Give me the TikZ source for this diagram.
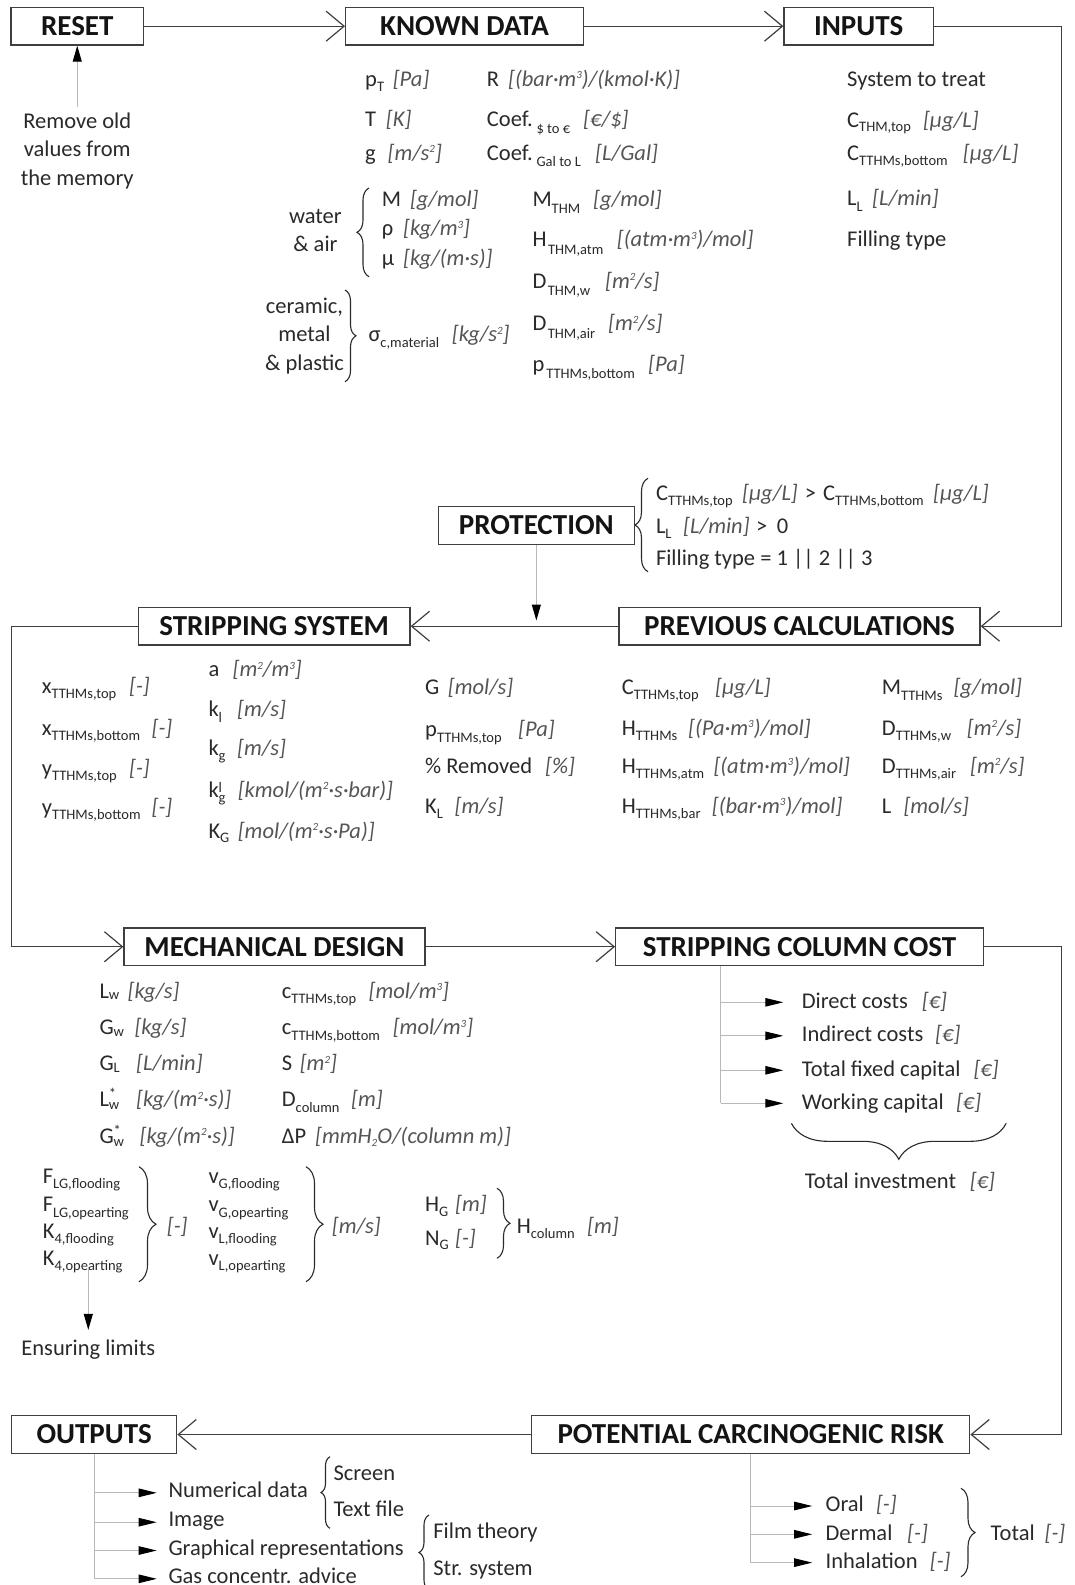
\documentclass[tikz,border=0pt]{standalone}
\usepackage{fontspec}
\setmainfont{Carlito}
\usetikzlibrary{arrows.meta,decorations.pathreplacing}

\definecolor{linec}{HTML}{3F3F3F}
\definecolor{titlec}{HTML}{141414}
\definecolor{labc}{HTML}{2A2A2A}
\definecolor{unitc}{HTML}{555555}
\definecolor{grayc}{HTML}{B8B8B8}

% font sizes
\newcommand\bodyfont{\fontsize{22.5}{27}\selectfont}
\newcommand\titlefont{\fontsize{29}{34}\selectfont\bfseries}
\newcommand\subf{\fontsize{14.5}{15}\selectfont}
\newcommand\supf{\fontsize{11}{11}\selectfont}
% lowered subscript, raised superscript, unit in grey italics
\newcommand\sbs[2][5.5pt]{\raisebox{-#1}{\subf #2}}
\newcommand\sps[1]{\raisebox{7.5pt}{\supf #1}}
\newcommand\unt[1]{{\itshape\color{unitc}#1}}
% label padded to a fixed width, followed by its unit
\newcommand\lu[3]{\makebox[#1][l]{#2}\unt{#3}}
% stacked subscript / superscript
\newcommand\sbsp[4]{\makebox[0pt][l]{\raisebox{#3}{\subf #4}}\raisebox{-#1}{\subf #2}}

\begin{document}
\begin{tikzpicture}[x=1pt,y=-1pt,
  stage/.style={draw=linec, line width=1.3pt, minimum height=37.7pt, inner sep=0pt,
                font=\titlefont, text=titlec},
  lab/.style={anchor=base west, inner sep=0pt, font=\bodyfont, text=labc},
  flow/.style={draw=linec, line width=1.2pt, -{Straight Barb[length=18pt,width=30pt]}},
  grayline/.style={draw=grayc, line width=1pt},
  feed/.style={grayline, -{Triangle[length=16pt,width=9pt,color=black]}},
  branch/.style={grayline, -{Triangle[length=18pt,width=8.5pt,color=black]}},
  brc/.style={decorate, decoration={brace, amplitude=#1}, draw=labc, line width=1.1pt},
]
\useasboundingbox (0,0) rectangle (1075,1585);
\fill[white] (0,0) rectangle (1075,1585);
\clip (0,0) rectangle (1075,1585);

% ---------- stages ----------
\node[stage, minimum width=132.5pt] (reset)   at (77.25,26.2)  {RESET};
\node[stage, minimum width=237.6pt] (known)   at (464.5,26.2)  {KNOWN DATA};
\node[stage, minimum width=149.2pt] (inputs)  at (858.6,26.2)  {INPUTS};
\node[stage, minimum width=196pt]   (prot)    at (536.35,525.3) {PROTECTION};
\node[stage, minimum width=271.7pt] (strip)   at (274.15,626.2) {STRIPPING SYSTEM};
\node[stage, minimum width=361pt]   (prev)    at (799.5,626.2) {PREVIOUS CALCULATIONS};
\node[stage, minimum width=301pt]   (mech)    at (274.5,946.7) {MECHANICAL DESIGN};
\node[stage, minimum width=367.6pt] (cost)    at (799.5,946.7) {STRIPPING COLUMN COST};
\node[stage, minimum width=165pt]   (outputs) at (94.2,1434.5) {OUTPUTS};
\node[stage, minimum width=438pt]   (risk)    at (750.7,1434.5) {POTENTIAL CARCINOGENIC RISK};

% ---------- main flow ----------
\coordinate (c1) at (1061.8,26.2);
\coordinate (c2) at (11.7,626.2);
\coordinate (c3) at (1061.8,946.7);
\draw[flow] (reset.east) -- (known.west);
\draw[flow] (known.east) -- (inputs.west);
\draw[flow] (inputs.east) -- (c1) |- (prev.east);
\draw[flow] (prev.west) -- (strip.east);
\draw[flow] (strip.west) -- (c2) |- (mech.west);
\draw[flow] (mech.east) -- (cost.west);
\draw[flow] (cost.east) -- (c3) |- (risk.east);
\draw[flow] (risk.west) -- (outputs.east);

% ---------- reset ----------
\node[lab, anchor=base] (rm1) at (77.25,128.3) {Remove old};
\node[lab, anchor=base] (rm2) at (77.25,156.7) {values from};
\node[lab, anchor=base] (rm3) at (77.25,185) {the memory};
\draw[feed] ([yshift=5.7pt]rm1.north) -- (reset.south);

% ---------- known data ----------
\node[lab] (pt)  at (365,86)    {\lu{27.6pt}{p\sbs{T}}{[Pa]}};
\node[lab] (tk)  at (365,126.7) {\lu{20.7pt}{T}{[K]}};
\node[lab] (gg)  at (365,160)   {\lu{22.4pt}{g}{[m/s\sps{2}]}};
\node[lab] (rr)  at (486.7,86)    {\lu{21.3pt}{R}{[(bar·m\sps{3})/(kmol·K)]}};
\node[lab] (cf1) at (486.7,126.7) {\lu{96.3pt}{Coef.\,\sbs[6.5pt]{\$ to €}}{[€/\$]}};
\node[lab] (cf2) at (486.7,160)   {\lu{108.3pt}{Coef.\,\sbs[6.5pt]{Gal to L}}{[L/Gal]}};

\node[lab] (mw)  at (381.7,206)   {\lu{28.1pt}{M}{[g/mol]}};
\node[lab] (rho) at (381.7,235.5) {\lu{21.2pt}{ρ}{[kg/m\sps{3}]}};
\node[lab] (mu)  at (381.7,265)   {\lu{21.2pt}{μ}{[kg/(m·s)]}};
\node[lab, anchor=base] (wa1) at (315.4,223.3) {water};
\node[lab, anchor=base] (wa2) at (315.4,251.7) {\& air};
\draw[brc=12pt] (369,276.7) -- (369,188);

\node[lab, anchor=base] (cm1) at (304.5,313.5) {ceramic,};
\node[lab, anchor=base] (cm2) at (304.5,341.7) {metal};
\node[lab, anchor=base] (cm3) at (304.5,370)   {\& plastic};
\draw[brc=11pt] (345,290) -- (345,381.7);
\node[lab] (sig) at (368.3,341.7) {\lu{83.4pt}{σ\sbs[6pt]{c,material}}{[kg/s\sps{2}]}};

\node[lab] (mthm)  at (532.3,206)   {\lu{60.7pt}{M\sbs[7pt]{THM}}{[g/mol]}};
\node[lab] (hthm)  at (532.3,246.7) {\lu{84.4pt}{H\kern1.5pt\sbs[7.5pt]{THM,atm}}{[(atm·m\sps{3})/mol]}};
\node[lab] (dthmw) at (532.3,288.3) {\lu{72.7pt}{D\kern1.5pt\sbs[7.5pt]{THM,w}}{[m\sps{2}/s]}};
\node[lab] (dthma) at (532.3,330.7) {\lu{75.7pt}{D\kern1.5pt\sbs[7.5pt]{THM,air}}{[m\sps{2}/s]}};
\node[lab] (pbot)  at (532.3,371)   {\lu{115.7pt}{p\kern2pt\sbs[7pt]{TTHMs,bottom}}{[Pa]}};

% ---------- inputs ----------
\node[lab] (sys)  at (847,86)    {System to treat};
\node[lab] (cthm) at (847,127)   {\lu{75.8pt}{C\sbs[4.5pt]{THM,top}}{[μg/L]}};
\node[lab] (cbot) at (847,160)   {\lu{115.7pt}{C\sbs{TTHMs,bottom}}{[μg/L]}};
\node[lab] (ll)   at (847,205.5) {\lu{25pt}{L\sbs{L}}{[L/min]}};
\node[lab] (fill) at (847,246)   {Filling type};

% ---------- protection ----------
\node[lab] (pc1) at (655.8,500)
  {\lu{86.2pt}{C\sbs{TTHMs,top}}{\makebox[62.6pt][l]{[μg/L]}}\makebox[18.4pt][l]{>}\lu{110pt}{C\sbs{TTHMs,bottom}}{[μg/L]}};
\node[lab] (pc2) at (655.8,533.3)
  {\lu{27.2pt}{L\sbs{L}}{\makebox[73pt][l]{[L/min]}}\makebox[20.8pt][l]{>}0};
\node[lab] (pc3) at (655.8,565) {Filling type = 1 || 2 || 3};
\draw[brc=13pt] (648,571.7) -- (648,478.3);
\coordinate (protend) at (536.35,620.5);
\draw[feed] (prot.south) -- (protend);

% ---------- stripping system ----------
\node[lab] (xt) at (41.7,693.3) {\lu{87.3pt}{x\sbs{TTHMs,top}}{[-]}};
\node[lab] (xb) at (41.7,735)   {\lu{109.8pt}{x\sbs{TTHMs,bottom}}{[-]}};
\node[lab] (yt) at (41.7,775)   {\lu{87.3pt}{y\sbs{TTHMs,top}}{[-]}};
\node[lab] (yb) at (41.7,814)   {\lu{109.8pt}{y\sbs{TTHMs,bottom}}{[-]}};

\node[lab] (aa)  at (208.3,676.7) {\lu{24.1pt}{a}{[m\sps{2}/m\sps{3}]}};
\node[lab] (kl)  at (208.3,716.7) {\lu{28.7pt}{k\sbs{l}}{[m/s]}};
\node[lab] (kg)  at (208.3,755)   {\lu{28.7pt}{k\sbs{g}}{[m/s]}};
\node[lab] (kgl) at (208.3,797)   {\lu{29.3pt}{k\sbsp{5.5pt}{g}{4.5pt}{l}}{[kmol/(m\sps{2}·s·bar)]}};
\node[lab] (kgg) at (208.3,838)   {\lu{29.3pt}{K\sbs[4pt]{G}}{[mol/(m\sps{2}·s·Pa)]}};

\node[lab] (gm)   at (425,694)   {\lu{22.7pt}{G}{[mol/s]}};
\node[lab] (ptop) at (425,736.7) {\lu{93pt}{p\sbs{TTHMs,top}}{[Pa]}};
\node[lab] (rem)  at (425,773.3) {\lu{120pt}{\% Removed}{[\%]}};
\node[lab] (kll)  at (425,813.3) {\lu{29.5pt}{K\sbs{L}}{[m/s]}};

% ---------- previous calculations ----------
\node[lab] (ctop) at (621.7,694)   {\lu{93.3pt}{C\sbs{TTHMs,top}}{[μg/L]}};
\node[lab] (htt)  at (621.7,735)   {\lu{66.3pt}{H\sbs{TTHMs}}{[(Pa·m\sps{3})/mol]}};
\node[lab] (hatm) at (621.7,773.3) {\lu{91.6pt}{H\sbs{TTHMs,atm}}{[(atm·m\sps{3})/mol]}};
\node[lab] (hbar) at (621.7,813.3) {\lu{90pt}{H\sbs{TTHMs,bar}}{[(bar·m\sps{3})/mol]}};
\node[lab] (mtt)  at (881.7,694)   {\lu{71.6pt}{M\sbs[6.5pt]{TTHMs}}{[g/mol]}};
\node[lab] (dtw)  at (881.7,735)   {\lu{85pt}{D\sbs{TTHMs,w}}{[m\sps{2}/s]}};
\node[lab] (dta)  at (881.7,773.3) {\lu{88.3pt}{D\sbs{TTHMs,air}}{[m\sps{2}/s]}};
\node[lab] (lmol) at (881.7,813.3) {\lu{21.6pt}{L}{[mol/s]}};

% ---------- mechanical design ----------
\node[lab] (lw)  at (99.3,998)    {\lu{28.1pt}{L\sbs[1.5pt]{w}}{[kg/s]}};
\node[lab] (gw)  at (99.3,1034.5) {\lu{35pt}{G\sbs[1.5pt]{w}}{[kg/s]}};
\node[lab] (gl)  at (99.3,1070.5) {\lu{36.7pt}{G\sbs[1.5pt]{L}}{[L/min]}};
\node[lab] (lws) at (99.3,1106.7) {\lu{36.7pt}{L\sbsp{3pt}{w}{8pt}{*}}{[kg/(m\sps{2}·s)]}};
\node[lab] (gws) at (99.3,1143)   {\lu{40.2pt}{G\sbsp{3pt}{w}{8pt}{*}}{[kg/(m\sps{2}·s)]}};

\node[lab] (cct)  at (281.7,998)    {\lu{86.8pt}{c\sbs{TTHMs,top}}{[mol/m\sps{3}]}};
\node[lab] (ccb)  at (281.7,1034.5) {\lu{110.9pt}{c\sbs{TTHMs,bottom}}{[mol/m\sps{3}]}};
\node[lab] (ss)   at (281.7,1070.5) {\lu{17.9pt}{S}{[m\sps{2}]}};
\node[lab] (dcol) at (281.7,1106.7) {\lu{69.3pt}{D\sbs{column}}{[m]}};
\node[lab] (dp)   at (281.7,1143)   {\lu{33.3pt}{ΔP}{[mmH\raisebox{-3pt}{\supf 2}O/(column m)]}};

\node[lab] (f1)  at (42.7,1183.3) {F\sbs{LG,flooding}};
\node[lab] (f2)  at (42.7,1211.7) {F\sbs{LG,opearting}};
\node[lab] (k41) at (42.7,1238.3) {K\sbs{4,flooding}};
\node[lab] (k42) at (42.7,1265)   {K\sbs{4,opearting}};
\draw[brc=17pt] (139,1166.7) -- (139,1281.7);
\node[lab] (fu) at (166.7,1233) {\unt{[-]}};

\node[lab] (v1) at (208.3,1183.3) {v\sbs{G,flooding}};
\node[lab] (v2) at (208.3,1211.7) {v\sbs{G,opearting}};
\node[lab] (v3) at (208.3,1238.3) {v\sbs{L,flooding}};
\node[lab] (v4) at (208.3,1265)   {v\sbs{L,opearting}};
\draw[brc=17pt] (306,1166.7) -- (306,1281.7);
\node[lab] (vu) at (331.7,1233) {\unt{[m/s]}};

\node[lab] (hg) at (425,1211.7) {\lu{30pt}{H\sbs[4.5pt]{G}}{[m]}};
\node[lab] (ng) at (425,1245)   {\lu{30pt}{N\sbs[4.5pt]{G}}{[-]}};
\draw[brc=13pt] (497,1188.3) -- (497,1258.3);
\node[lab] (hcol) at (516.7,1233) {\lu{70.3pt}{H\sbs{column}}{[m]}};

\node[lab, anchor=base] (ens) at (88.3,1355) {Ensuring limits};
\draw[feed, shorten <=-6.6pt, shorten >=9.3pt] (ens.north |- k42.south) -- (ens.north);

% ---------- stripping column cost ----------
\node[lab] (dc) at (801.7,1008)   {\lu{120pt}{Direct costs}{[€]}};
\node[lab] (ic) at (801.7,1041.5) {\lu{133.3pt}{Indirect costs}{[€]}};
\node[lab] (tf) at (801.7,1076)   {\lu{171.6pt}{Total fixed capital}{[€]}};
\node[lab] (wc) at (801.7,1109)   {\lu{154.1pt}{Working capital}{[€]}};
\path (dc.base west) ++(-18.4,-5.7) coordinate (dcA);
\path (ic.base west) ++(-18.4,-5.7) coordinate (icA);
\path (tf.base west) ++(-18.4,-5.7) coordinate (tfA);
\path (wc.base west) ++(-18.4,-5.7) coordinate (wcA);
\path (cost.south) ++(-78.8,0) coordinate (cstem);
\draw[grayline] (cstem) -- (cstem |- wcA);
\draw[branch] (cstem |- dcA) -- (dcA);
\draw[branch] (cstem |- icA) -- (icA);
\draw[branch] (cstem |- tfA) -- (tfA);
\draw[branch] (cstem |- wcA) -- (wcA);
\draw[brc=36pt] (1006.2,1123.3) -- (791.4,1123.3);
\node[lab] (ti) at (804.6,1188.3) {\lu{165.1pt}{Total investment}{[€]}};

% ---------- outputs ----------
\node[lab] (nd)  at (168.3,1497.3) {Numerical data};
\node[lab] (img) at (168.3,1526.7) {Image};
\node[lab] (gr)  at (168.3,1555)   {Graphical representations};
\node[lab] (gas) at (168.3,1583.3) {Gas concentr. advice};
\path (nd.base west)  ++(-11.6,-4.5) coordinate (ndA);
\path (img.base west) ++(-11.6,-4.5) coordinate (imgA);
\path (gr.base west)  ++(-11.6,-4.5) coordinate (grA);
\path (gas.base west) ++(-11.6,-4.5) coordinate (gasA);
\draw[grayline] (outputs.south) -- (outputs.south |- gasA);
\draw[branch] (outputs.south |- ndA) -- (ndA);
\draw[branch] (outputs.south |- imgA) -- (imgA);
\draw[branch] (outputs.south |- grA) -- (grA);
\draw[branch] (outputs.south |- gasA) -- (gasA);

\draw[brc=9pt] (330,1528.3) -- (330,1456.7);
\node[lab] (scr) at (333.3,1480)   {Screen};
\node[lab] (txt) at (333.3,1516.7) {Text file};
\draw[brc=10pt] (429,1590) -- (429,1515);
\node[lab] (film) at (433.2,1538.3) {Film theory};
\node[lab] (strs) at (433.2,1575)   {Str. system};

% ---------- potential carcinogenic risk ----------
\node[lab] (oral) at (825.4,1511.7) {\lu{50.4pt}{Oral}{[-]}};
\node[lab] (derm) at (825.4,1540)   {\lu{81.6pt}{Dermal}{[-]}};
\node[lab] (inh)  at (825.4,1568.3) {\lu{104.3pt}{Inhalation}{[-]}};
\path (oral.base west) ++(-13.2,-5.7) coordinate (oralA);
\path (derm.base west) ++(-13.2,-5.7) coordinate (dermA);
\path (inh.base west)  ++(-13.2,-5.7) coordinate (inhA);
\draw[grayline] (risk.south) -- (risk.south |- inhA);
\draw[branch] (risk.south |- oralA) -- (oralA);
\draw[branch] (risk.south |- dermA) -- (dermA);
\draw[branch] (risk.south |- inhA) -- (inhA);
\draw[brc=14pt] (961,1488.3) -- (961,1576.7);
\node[lab] (tot) at (990.5,1540) {\lu{53.9pt}{Total}{[-]}};
\end{tikzpicture}
\end{document}
